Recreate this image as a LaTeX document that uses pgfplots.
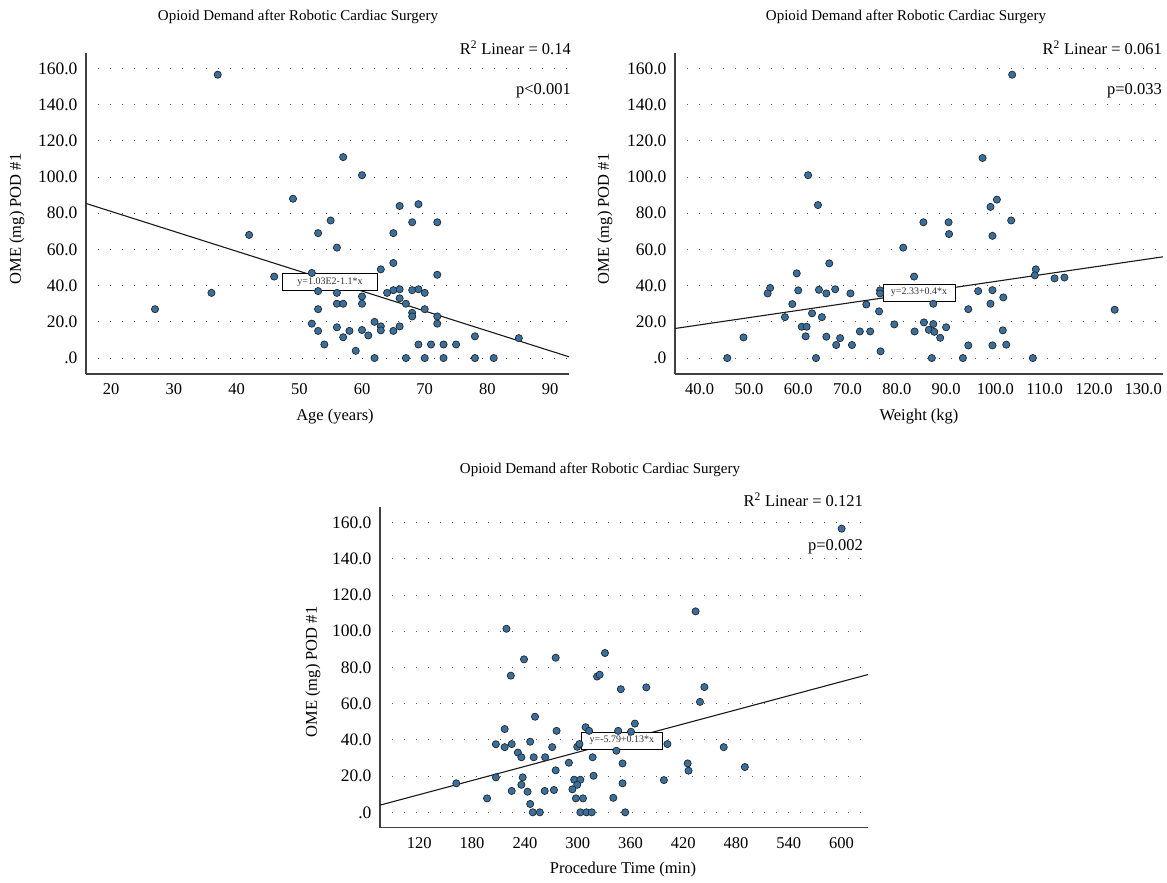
\documentclass[border=0pt]{standalone}
\usepackage{pgfplots}
\pgfplotsset{compat=1.18}
\usepackage{fontspec}
\setmainfont{Liberation Serif}
\definecolor{ptblue}{RGB}{55,112,158}
\newcommand\tks{\fontsize{16.5bp}{19bp}\selectfont}
\newcommand\ytks{\fontsize{17.5bp}{20bp}\selectfont}
\newcommand\ttl{\fontsize{15bp}{18bp}\selectfont}
\newcommand\lbx{\fontsize{10bp}{11bp}\selectfont}
\tikzset{lb/.style={draw=black, fill=white, text=black!80, font=\lbx, inner sep=0pt, minimum height=17bp}}
\pgfplotsset{myax/.style={
  scale only axis, axis x line=bottom, axis y line=left,
  axis line style={-, black!75, line width=1.2bp},
  major tick length=0pt,
  ytick={0,20,40,60,80,100,120,140,160},
  yticklabels={.0,20.0,40.0,60.0,80.0,100.0,120.0,140.0,160.0},
  ymajorgrids, grid style={black!65, line width=0.9bp, dash pattern=on 0.9bp off 11.1bp},
  xticklabel style={font=\tks, yshift=-6bp},
  yticklabel style={font=\ytks, xshift=-5bp},
  clip=false,
  /pgf/number format/assume math mode=true},
  pts/.style={only marks, mark=*, mark size=3.6bp, mark options={fill=ptblue, draw=black!85, line width=0.7bp}},
  rl/.style={no marks, black!90, line width=1.1bp}
}
\begin{document}
\begin{tikzpicture}
\useasboundingbox (0,0) rectangle (1167bp,883bp);
% ---------- Plot 1: Age
\begin{axis}[myax, at={(86bp,509bp)}, anchor=south west, width=483bp, height=321bp,
  xmin=16, xmax=93, ymin=-8.8, ymax=168.5, xtick={20,30,40,50,60,70,80,90}]
\addplot[rl] coordinates {(16,85.4) (93,0.7)};
\addplot[pts] table {
x y
37 156.5
49 88
42 68
53 69
55 76
57 111
60 101
66 84
69 85
68 75
72 75
65 69
27 27
36 36
46 45
52 47
53 37
53 27
52 19
53 15
54 7.5
56 61
65 52.5
63 49
72 46
56 36
60 34
60 30
56 30
57 30
64 36
65 37.5
66 38
68 37.5
69 38
70 36
66 33
67 30
70 27
68 25
68 23
72 23
72 19
62 20
63 17.5
63 15.3
56 17
58 15
60 15.5
65 15
66 17.5
57 11.5
61 12.5
59 4
69 7.5
71 7.5
73 7.5
75 7.5
78 12
85 11
62 0
67 0
70 0
73 0
78 0
81 0
};
\node[lb, minimum width=95bp] at (axis cs:54.9,42) {y=1.03E2-1.1*x};
\end{axis}
% ---------- Plot 2: Weight
\begin{axis}[myax, at={(675bp,509bp)}, anchor=south west, width=488bp, height=321bp,
  xmin=35, xmax=134, ymin=-8.8, ymax=168.5, xtick={40,50,60,70,80,90,100,110,120,130},
  xticklabels={40.0,50.0,60.0,70.0,80.0,90.0,100.0,110.0,120.0,130.0}]
\addplot[rl] coordinates {(35,16.33) (134,55.93)};
\addplot[pts] table {
x y
62 101
64 84.5
103.4 156.5
97.4 110.5
100.3 87.5
99 83.5
85.4 75
90.5 75
103.2 76
90.6 68.5
99.4 67.5
81.3 61
83.5 45
108.2 49
108 45.7
112 44
114 44.5
96.5 37
99.4 37.5
101.6 33.5
87.4 30
99 30
94.5 27
124.2 26.7
85.5 19.7
87.4 18.8
90 17
83.6 14.7
86.5 15.6
87.6 14.5
101.5 15.3
88.8 11.2
94.5 7
99.4 7
102.2 7.4
87.1 0
93.4 0
107.6 0
66.3 52.3
59.7 46.8
54.3 38.7
53.8 35.7
60 37.4
64.2 37.7
65.7 35.7
67.5 38
70.6 35.7
76.6 37.4
76.6 35.7
58.8 29.8
73.8 29.6
62.8 24.7
57.3 22.6
64.8 22.6
76.4 25.8
60.7 17.3
61.7 17.3
79.5 18.6
72.5 14.7
74.6 14.7
48.9 11.4
61.5 12
65.7 11.8
68.5 11
67.7 7.2
70.9 7.2
76.7 3.7
45.6 0
63.6 0
};
\node[lb, minimum width=72bp] at (axis cs:84.5,36.2) {y=2.33+0.4*x};
\end{axis}
% ---------- Plot 3: Procedure time
\begin{axis}[myax, at={(380bp,55.3bp)}, anchor=south west, width=488bp, height=320.4bp,
  xmin=75.3, xmax=630, ymin=-8.5, ymax=168.5, xtick={120,180,240,300,360,420,480,540,600}]
\addplot[rl] coordinates {(75.3,3.96) (630,76.1)};
\addplot[pts] table {
x y
219 101.4
239 84.5
275 85.4
331 88
600 156.7
434 111
224 75.5
322 75
325 76
349 68
251.5 52.8
217 46
276 45
309 47
313 45
346 45
207 37.6
217 36
225 37.7
246 39
271 36
232 33
236 30.4
250 30.4
263 30.4
290 27.4
299.5 36.2
302 37.7
344 34
317 30.4
351 27
207 19.3
237.5 19.3
275 23.2
318 20.2
162 16
236 15.2
296 18
303 18
299.5 15.2
294 12.7
225 11.8
243 11.4
262.5 11.8
273 12.3
197 7.7
298 7.7
306 7.7
340.5 8
246 4.6
249 0
257 0
303 0
310 0
316 0
354 0
351 16
378 69
444 69.2
439 61
365 49
360.6 44.5
402 37.7
466 36
425 27
426 23
490 25
398 17.8
};
\node[lb, minimum width=81bp] at (axis cs:350.3,39.8) {y=-5.79+0.13*x};
\end{axis}
% ---------- texts
\node[font=\ttl, anchor=base] at (298bp,862bp) {Opioid Demand after Robotic Cardiac Surgery};
\node[font=\ttl, anchor=base] at (906bp,862bp) {Opioid Demand after Robotic Cardiac Surgery};
\node[font=\ttl, anchor=base] at (600bp,409bp) {Opioid Demand after Robotic Cardiac Surgery};
\node[font=\tks, anchor=base east, inner sep=0pt] at (571bp,828bp) {R\textsuperscript{2} Linear = 0.14};
\node[font=\tks, anchor=base east, inner sep=0pt] at (571bp,788bp) {p<0.001};
\node[font=\tks, anchor=base east, inner sep=0pt] at (1162bp,828bp) {R\textsuperscript{2} Linear = 0.061};
\node[font=\tks, anchor=base east, inner sep=0pt] at (1162bp,788bp) {p=0.033};
\node[font=\tks, anchor=base east, inner sep=0pt] at (863bp,376.3bp) {R\textsuperscript{2} Linear = 0.121};
\node[font=\tks, anchor=base east, inner sep=0pt] at (863bp,332bp) {p=0.002};
\node[font=\tks, anchor=base] at (335bp,462bp) {Age (years)};
\node[font=\tks, anchor=base] at (919bp,462bp) {Weight (kg)};
\node[font=\tks, anchor=base] at (623bp,10bp) {Procedure Time (min)};
\node[font=\tks, rotate=90] at (17bp,664bp) {OME (mg) POD \#1};
\node[font=\tks, rotate=90] at (605bp,664bp) {OME (mg) POD \#1};
\node[font=\tks, rotate=90] at (313bp,211bp) {OME (mg) POD \#1};
\end{tikzpicture}
\end{document}
